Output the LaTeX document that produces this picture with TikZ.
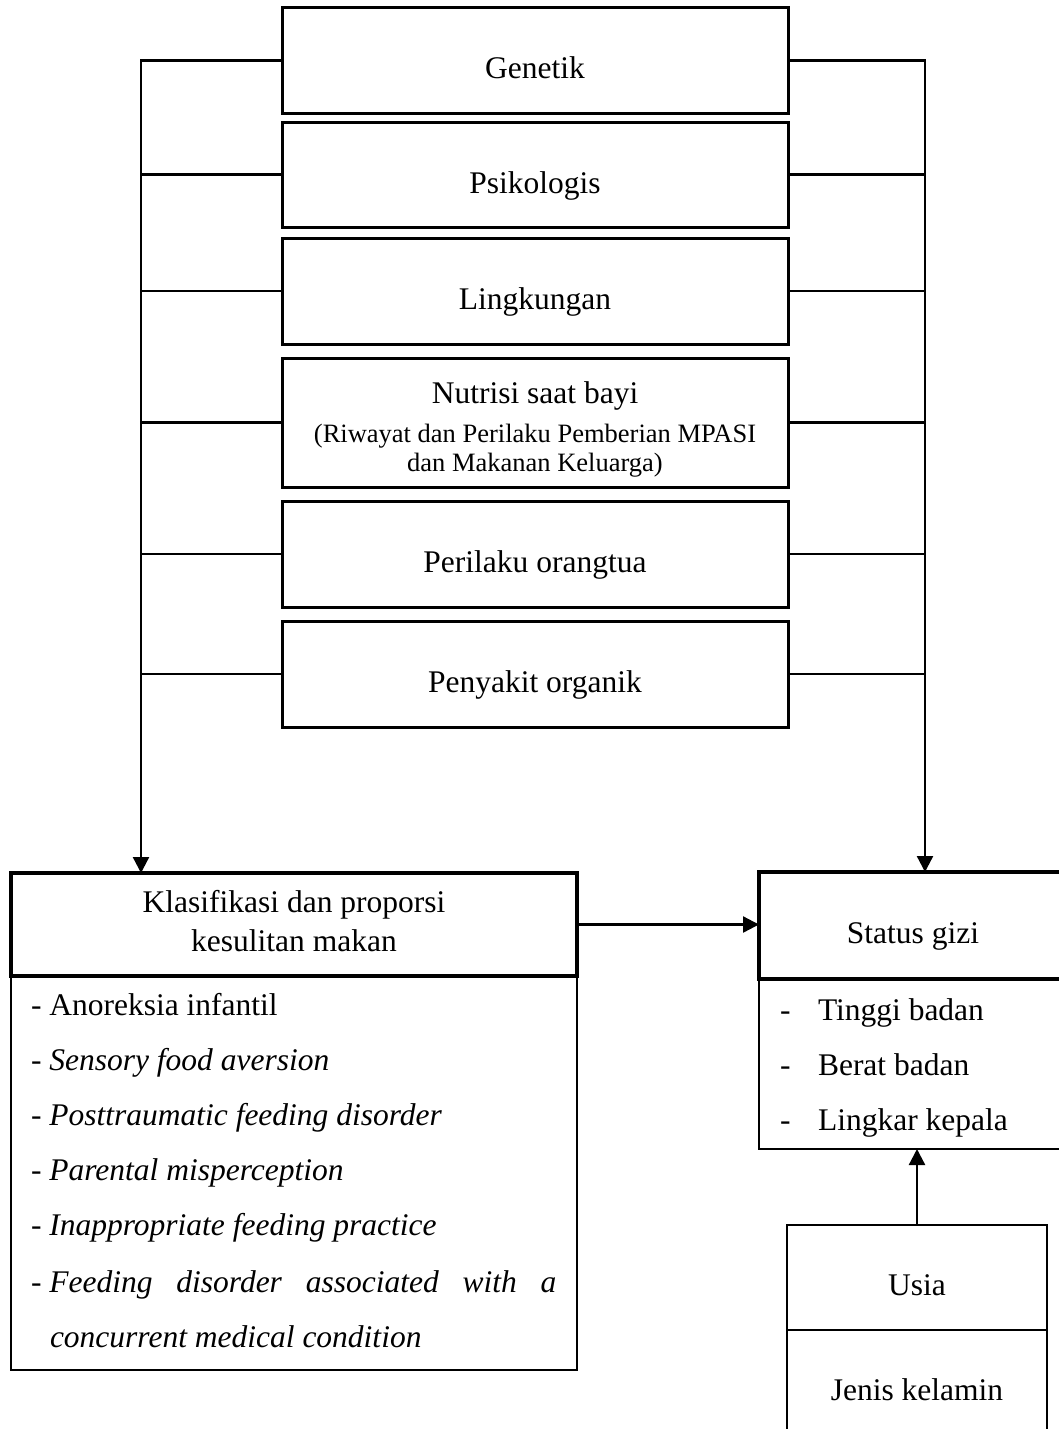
\documentclass[tikz,border=0pt]{standalone}
\usepackage{fontspec}
\setmainfont{Liberation Serif}
\usetikzlibrary{arrows.meta}
\begin{document}
\begin{tikzpicture}[x=1pt,y=-1pt,
  every node/.style={inner sep=0pt,outer sep=0pt},
  factorbox/.style={draw,line width=3pt,minimum width=506pt},
  txt/.style={anchor=base,font=\fontsize{31.5}{38}\selectfont},
  smalltxt/.style={anchor=base,font=\fontsize{26.5}{31}\selectfont},
  itemtxt/.style={anchor=base west,font=\fontsize{31.5}{38}\selectfont},
  thickbox/.style={draw,line width=4pt},
  thinbox/.style={draw,line width=2.7pt},
  conn/.style={line width=2.3pt},
  arr/.style={line width=2.3pt,-{Triangle[length=16pt,width=16pt]}}]
\fill[white] (0,0) rectangle (1059,1429);
\useasboundingbox (0,0) rectangle (1059,1429);

% factor boxes
\node[factorbox,minimum height=105pt] (gen) at (535,60.5) {};
\node[factorbox,minimum height=105pt] (psi) at (535,174.5) {};
\node[factorbox,minimum height=106pt] (lin) at (535,291) {};
\node[factorbox,minimum height=129pt] (nut) at (535,422.5) {};
\node[factorbox,minimum height=106pt] (per) at (535,554) {};
\node[factorbox,minimum height=106pt] (pen) at (535,674) {};

\node[txt] (gent) at (535,78) {Genetik};
\node[txt] (psit) at (535,193) {Psikologis};
\node[txt] (lint) at (535,309) {Lingkungan};
\node[txt] (nutt) at (535,403) {Nutrisi saat bayi};
\node[smalltxt] (nutt2) at (535,442) {(Riwayat dan Perilaku Pemberian MPASI};
\node[smalltxt] (nutt3) at (535,471) {dan Makanan Keluarga)};
\node[txt] (pert) at (535,572) {Perilaku orangtua};
\node[txt] (pent) at (535,692) {Penyakit organik};

% klasifikasi
\node[thinbox,minimum width=566pt,minimum height=394pt] (kllist) at (294,1173) {};
\node[thickbox,fill=white,minimum width=566pt,minimum height=103pt] (kl) at (294,924.5) {};
\node[txt] (klt1) at (294,912) {Klasifikasi dan proporsi};
\node[txt] (klt2) at (294,951) {kesulitan makan};

\node[itemtxt] (i1) at (31,1015) {- Anoreksia infantil};
\node[itemtxt] (i2) at (31,1070) {- \textit{Sensory food aversion}};
\node[itemtxt] (i3) at (31,1125) {- \textit{Posttraumatic feeding disorder}};
\node[itemtxt] (i4) at (31,1180) {- \textit{Parental misperception}};
\node[itemtxt] (i5) at (31,1235) {- \textit{Inappropriate feeding practice}};
\node[itemtxt] (i6) at (31,1292) {- \makebox[507pt][s]{\itshape Feeding disorder associated with a}};
\node[itemtxt] (i7) at (50,1347) {\textit{concurrent medical condition}};

% status gizi
\node[draw,line width=1.8pt,minimum width=308pt,minimum height=170pt] (sglist) at (913,1064) {};
\node[thickbox,fill=white,minimum width=308pt,minimum height=107pt] (sg) at (913,925.5) {};
\node[txt] (sgt) at (913,943) {Status gizi};
\node[itemtxt] (d1) at (780,1020) {-};
\node[itemtxt] (s1) at (818,1020) {Tinggi badan};
\node[itemtxt] (d2) at (780,1075) {-};
\node[itemtxt] (s2) at (818,1075) {Berat badan};
\node[itemtxt] (d3) at (780,1130) {-};
\node[itemtxt] (s3) at (818,1130) {Lingkar kepala};

% usia / jenis kelamin
\node[thinbox,minimum width=260pt,minimum height=105pt] (usia) at (917,1277.5) {};
\node[thinbox,minimum width=260pt,minimum height=112pt] (jk) at (917,1386) {};
\node[txt] (usiat) at (917,1295) {Usia};
\node[txt] (jkt) at (917,1400) {Jenis kelamin};

% trunks
\coordinate (ltrunk) at (141,0);
\coordinate (rtrunk) at (925,0);
\draw[arr] (gen.west) -| (ltrunk |- kl.north);
\draw[arr] (gen.east) -| (rtrunk |- sg.north);
\foreach \b in {psi,lin,nut,per,pen}{
  \draw[conn] (\b.west) -- (\b.west -| ltrunk);
  \draw[conn] (\b.east) -- (\b.east -| rtrunk);
}
\draw[arr] (kl.east) -- (kl.east -| sg.west);
\draw[arr] (usia.north) -- (usia.north |- sglist.south);
\end{tikzpicture}
\end{document}
